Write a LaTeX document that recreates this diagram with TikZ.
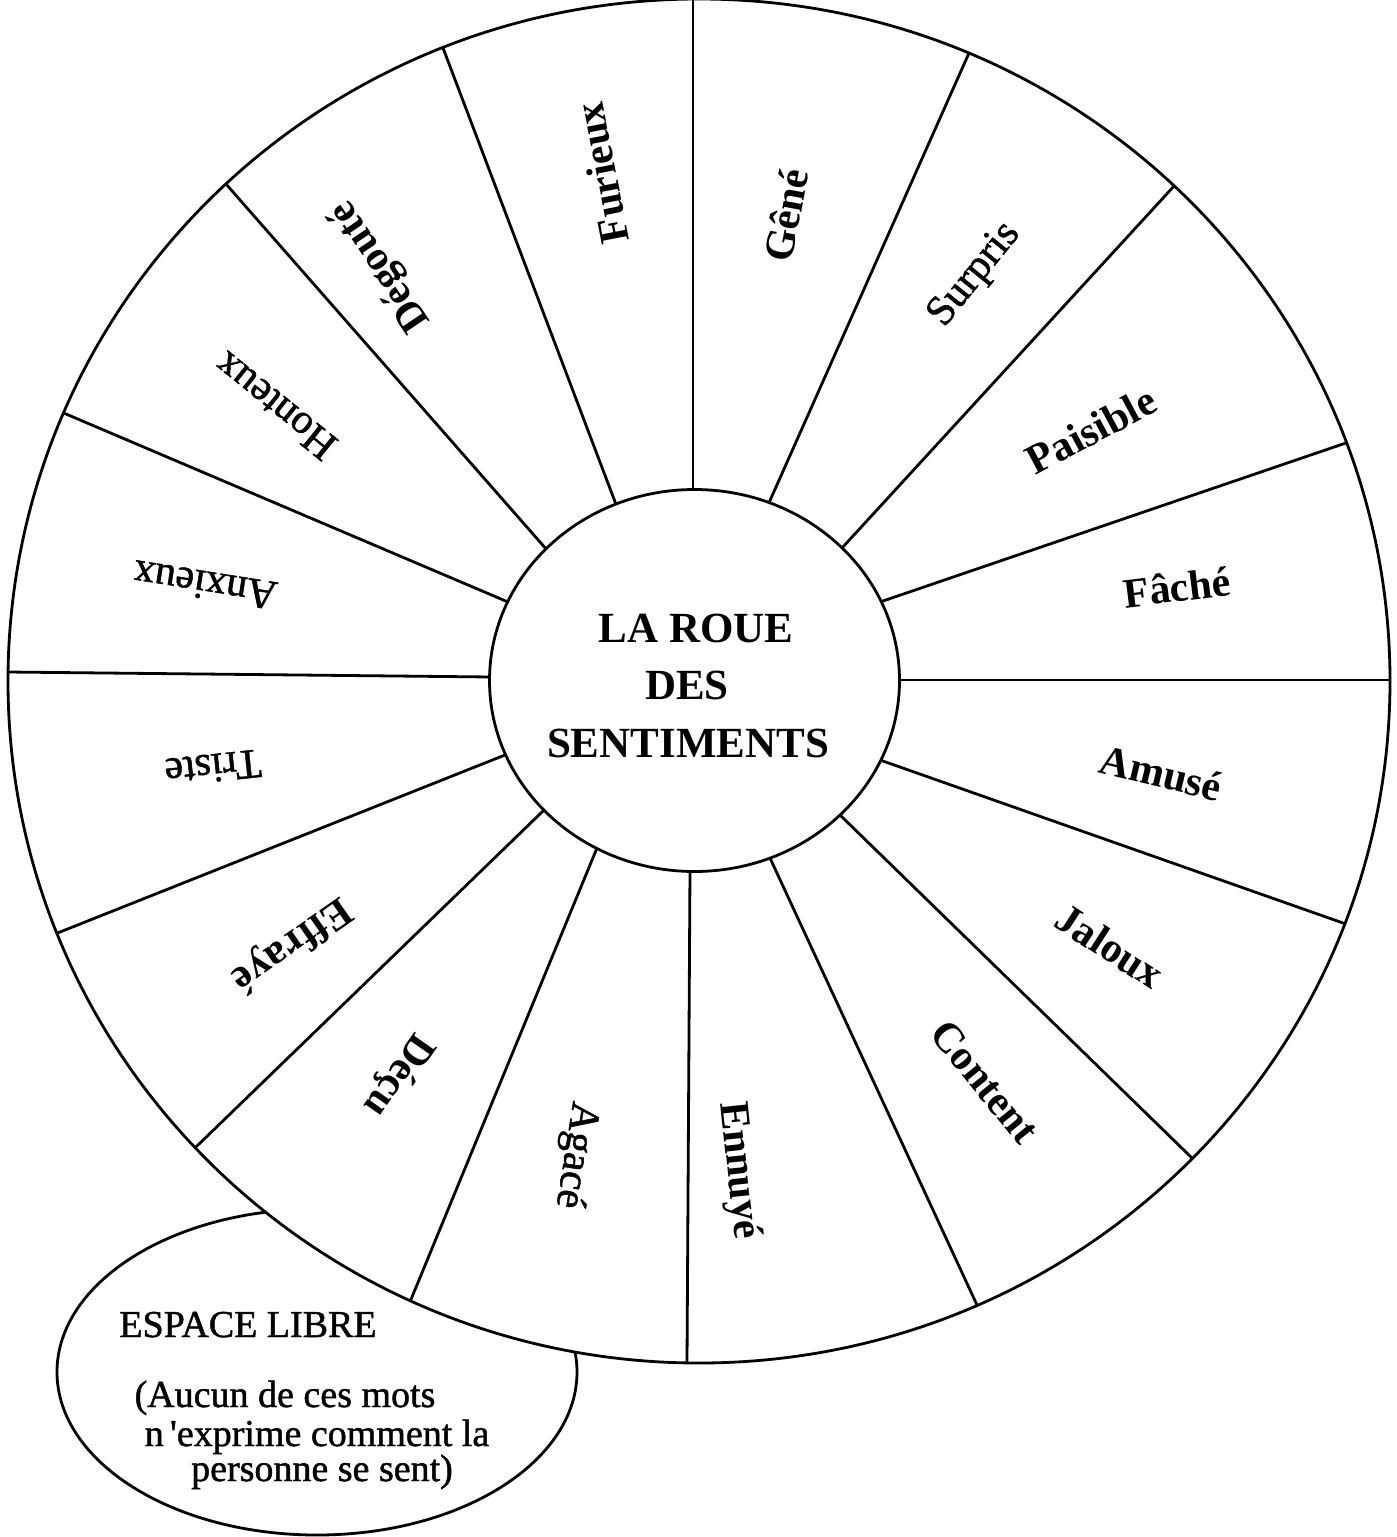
\documentclass[tikz,border=0pt]{standalone}
\usepackage{fontspec}
\setmainfont{Liberation Serif}
\newfontfamily\medserif{Liberation Serif}[FakeBold=1.2]
\usetikzlibrary{calc}
\begin{document}
\begin{tikzpicture}[x=1pt,y=-1pt,
  wl/.style={line width=2.8pt},
  lab/.style={font=\fontsize{42}{50}\selectfont\bfseries, inner sep=0pt},
  labr/.style={font=\fontsize{42}{50}\medserif, inner sep=0pt},
  ttl/.style={font=\fontsize{43}{52}\selectfont\bfseries, inner sep=0pt, anchor=base},
  esp/.style={font=\fontsize{38}{44}\medserif, inner sep=0pt, anchor=base}]
\useasboundingbox (0,0) rectangle (1397,1537);
\fill[white] (0,0) rectangle (1397,1537);
% free space bubble
\draw[wl, fill=white] (317,1372) ellipse [x radius=260pt, y radius=163pt];
% wheel
\fill[white] (699,681) ellipse [x radius=691pt, y radius=682pt];
\begin{scope}
  \clip (699,681) ellipse [x radius=691pt, y radius=682pt];
  \foreach \ox/\oy/\ix/\iy [count=\k] in {
    693/0/693/493, 965/62/768/505, 1175/185/842/548, 1340/445/880/602,
    1390/680/897/680, 1343/923/880/760, 1192/1158/840/815, 977/1305/770/858,
    687/1362/690/870, 412/1297/597/848, 198/1145/542/812, 60/932/505/755,
    8/672/492/677, 66/414/508/602, 233/192/547/550, 440/40/617/507} {
    \coordinate (o\k) at (\ox,\oy);
    \coordinate (i\k) at (\ix,\iy);
    \draw[wl] ($(i\k)!-0.1!(o\k)$) -- ($(i\k)!1.1!(o\k)$);
  }
\end{scope}
\draw[wl] (699,681) ellipse [x radius=691pt, y radius=682pt];
\draw[wl, fill=white] (694.5,680.5) ellipse [x radius=205pt, y radius=191pt];
% title
\node[ttl] (t1) at (696,642) {LA ROUE};
\node[ttl] (t2) at (687,699) {DES};
\node[ttl] (t3) at (688,757) {SENTIMENTS};
% labels
\node[lab, rotate=79.5] (gene) at (786,215) {Gêné};
\node[labr, rotate=51] (surpris) at (975,275) {Surpris};
\node[lab, rotate=28] (paisible) at (1091,430) {Paisible};
\node[lab, rotate=7] (fache) at (1177,587) {Fâché};
\node[lab, rotate=-13.5] (amuse) at (1161,773) {Amusé};
\node[lab, rotate=-33] (jaloux) at (1110,946) {Jaloux};
\node[lab, rotate=-51] (content) at (985,1082) {Content};
\node[lab, rotate=-84] (ennuye) at (738,1171) {Ennuyé};
\node[labr, rotate=-99] (agace) at (575,1155) {Agacé};
\node[lab, rotate=-125] (decu) at (398,1075) {Déçu};
\node[lab, rotate=-145] (effraye) at (291,944) {Effrayé};
\node[labr, rotate=-174] (triste) at (213,768) {Triste};
\node[labr, rotate=171] (anxieux) at (205,585) {Anxieux};
\node[labr, rotate=141] (honteux) at (275,406) {Honteux};
\node[lab, rotate=124] (degoute) at (381,266) {Dégouté};
\node[lab, rotate=101] (furieux) at (602,173) {Furieux};
% free space text
\node[esp] (e1) at (248,1337) {ESPACE LIBRE};
\node[esp] (e2) at (285,1407) {(Aucun de ces mots};
\node[esp] (e3) at (317,1446) {n\,\textquotesingle exprime comment la};
\node[esp] (e4) at (322,1481) {personne se sent)};
\end{tikzpicture}
\end{document}
